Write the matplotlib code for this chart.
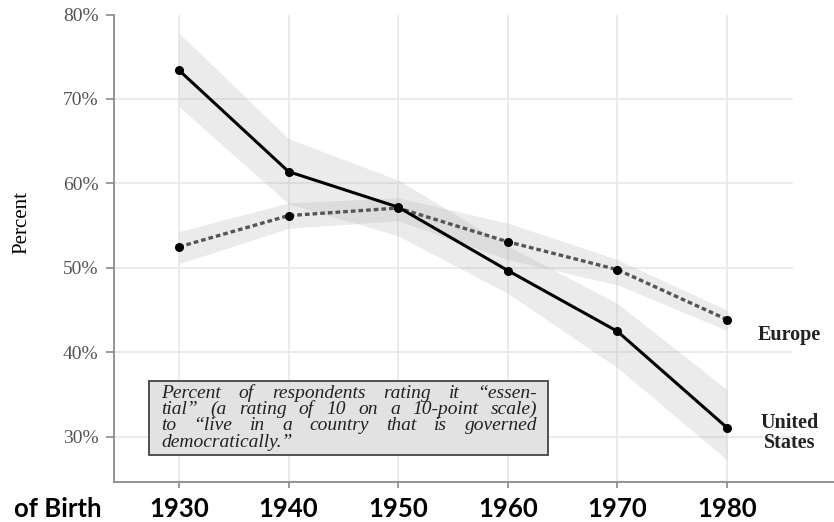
import numpy as np
import matplotlib
matplotlib.use('Agg')
import matplotlib.pyplot as plt
from matplotlib.patches import Rectangle

# Birth decades
years = [1930, 1940, 1950, 1960, 1970, 1980]

# United States: share rating democracy "essential" (%), with band
us = [73.4, 61.4, 57.2, 49.7, 42.5, 31.1]
us_lo = [69.1, 57.6, 53.8, 47.0, 38.2, 27.3]
us_hi = [77.8, 65.3, 60.4, 52.6, 45.8, 35.6]

# Europe
eu = [52.5, 56.2, 57.1, 53.1, 49.8, 43.9]
eu_lo = [50.5, 54.7, 55.6, 51.0, 48.0, 42.6]
eu_hi = [54.3, 57.7, 58.3, 55.3, 51.0, 45.0]

y_ticks = [30, 40, 50, 60, 70, 80]
y_labels = ['30%', '40%', '50%', '60%', '70%', '80%']

note_lines = [
    'Percent of respondents rating it \u201cessen-',
    'tial\u201d (a rating of 10 on a 10-point scale)',
    'to \u201clive in a country that is governed',
    'democratically.\u201d',
]

W, H = 834, 522
fig = plt.figure(figsize=(W / 100, H / 100), dpi=100)
ax = fig.add_axes([114 / W, 1 - 482 / H, 1 - 114 / W, (482 - 14.5) / H])

ax.set_xlim(1924.07, 1989.76)
ax.set_ylim(24.67, 80.0)

# grid
ax.vlines(years, 24.67, 80.0, color='#e8e8e8', lw=1.2, zorder=0)
ax.hlines(y_ticks[:-1], 1924.07, 1986, color='#e8e8e8', lw=1.2, zorder=0)

# confidence bands
ax.fill_between(years, us_lo, us_hi, color='#b0b0b0', alpha=0.25, lw=0, zorder=1)
ax.fill_between(years, eu_lo, eu_hi, color='#b0b0b0', alpha=0.25, lw=0, zorder=1)

# lines
ax.plot(years, eu, color='#555555', lw=2.4, linestyle=(0, (1.4, 0.9)),
        dash_capstyle='butt', zorder=3)
ax.plot(years, eu, 'o', color='black', ms=5.5, zorder=4)
ax.plot(years, us, color='black', lw=2.2, marker='o', ms=5.5, zorder=4)

# axes styling
for s in ['top', 'right']:
    ax.spines[s].set_visible(False)
for s in ['left', 'bottom']:
    ax.spines[s].set_color('#8a8a8a')
    ax.spines[s].set_linewidth(1.3)

ax.set_yticks(y_ticks)
ax.set_yticklabels(y_labels, family='Liberation Serif', fontsize=14, color='#555555')
ax.tick_params(axis='y', length=6, width=1.2, color='#8a8a8a', pad=5)
ax.set_xticks(years)
ax.set_xticklabels([str(y) for y in years], family='Lato', fontweight='bold', fontsize=18.5)
ax.tick_params(axis='x', length=4, width=1.2, color='#8a8a8a', pad=7)

fig.text(102 / W, 1 - 509 / H, 'of Birth', family='Lato', fontweight='bold',
         fontsize=18.5, ha='right', va='center')
fig.text(22 / W, 1 - 222 / H, 'Percent', family='Liberation Serif', fontsize=15,
         rotation=90, ha='center', va='center')

# series labels
ax.text(1985.7, 43.9 - 1.8, 'Europe', family='Liberation Serif', fontweight='bold',
        fontsize=14.5, ha='center', va='center', color='#222222')
ax.text(1985.7, 30.5, 'United\nStates', family='Liberation Serif', fontweight='bold',
        fontsize=14.5, ha='center', va='center', color='#222222', linespacing=1.0)

# note box
bx0, bx1, by0, by1 = 149, 548, 381, 455
fig.patches.append(Rectangle((bx0 / W, 1 - by1 / H), (bx1 - bx0) / W, (by1 - by0) / H,
                             transform=fig.transFigure, facecolor='#e2e2e2',
                             edgecolor='#444444', lw=1.3, zorder=5))

fig.canvas.draw()
r = fig.canvas.get_renderer()
tx0, tx1 = 161, 537
for i, line in enumerate(note_lines):
    yc = 393 + i * 16.5
    words = line.split()
    ts = [fig.text(0, 1 - yc / H, w, family='Liberation Serif', style='italic',
                   fontsize=14, va='center', ha='left', color='#222222', zorder=6)
          for w in words]
    widths = [t.get_window_extent(r).width for t in ts]
    if i < len(note_lines) - 1:
        gap = (tx1 - tx0 - sum(widths)) / (len(words) - 1)
    else:
        gap = 5
    x = tx0
    for t, w in zip(ts, widths):
        t.set_x(x / W)
        x += w + gap

fig.savefig('out.png', dpi=100)
